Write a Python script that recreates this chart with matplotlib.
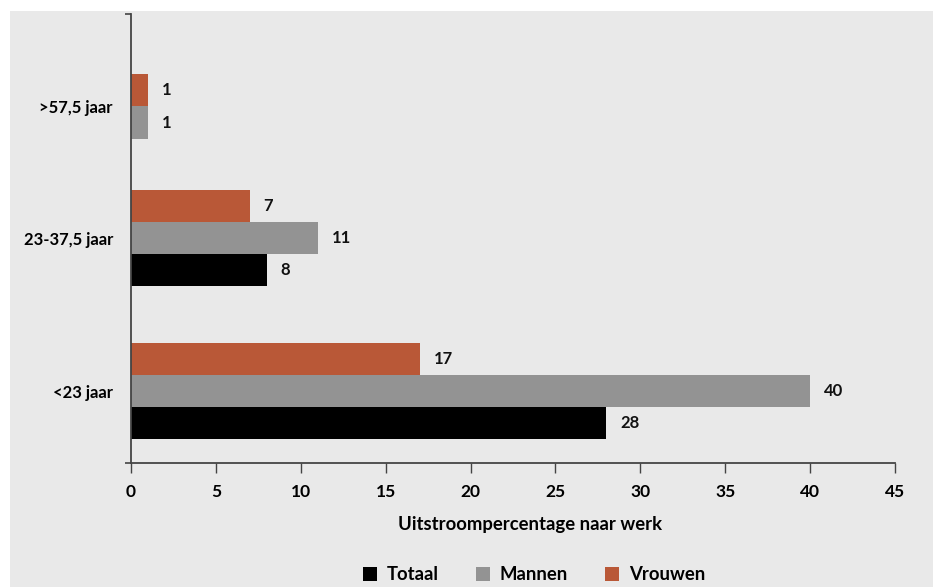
import matplotlib
matplotlib.use("Agg")
import matplotlib.pyplot as plt
from matplotlib.patches import Rectangle, Patch

plt.rcParams['font.family'] = ['Lato', 'DejaVu Sans']
plt.rcParams['font.weight'] = 'bold'

# Data
categories = ["<23 jaar", "23-37,5 jaar", ">57,5 jaar"]
series = ["Totaal", "Mannen", "Vrouwen"]
totaal = [28, 8, None]
mannen = [40, 11, 1]
vrouwen = [17, 7, 1]
colors = {"Totaal": "#000000", "Mannen": "#939393", "Vrouwen": "#b95837"}
xticks = [0, 5, 10, 15, 20, 25, 30, 35, 40, 45]

values = {"Totaal": totaal, "Mannen": mannen, "Vrouwen": vrouwen}
cat_pos = [0.0, 1.0, 1.86]
bar_h = 0.21
bg = "#e9e9e9"

fig = plt.figure(figsize=(9.33, 5.87), dpi=100, facecolor="white")
fig.patches.append(Rectangle((10 / 933, 0), 1, 1 - 11 / 587, transform=fig.transFigure,
                             facecolor=bg, edgecolor="none", zorder=-10))
ax = fig.add_axes([131 / 933, 124 / 587, 764 / 933, 449 / 587])
ax.set_zorder(1)
ax.set_facecolor(bg)

# Totaal at the bottom of each group, Vrouwen on top
for ci, pos in enumerate(cat_pos):
    present = [s for s in series if values[s][ci] is not None]
    n = len(present)
    for k, s in enumerate(present):
        v = values[s][ci]
        y = pos + (k - (n - 1) / 2) * bar_h
        ax.barh(y, v, height=bar_h, color=colors[s], zorder=2)
        ax.annotate(f"{v}", xy=(v, y), xytext=(10, 0), textcoords="offset points",
                    ha="left", va="center", fontsize=12, fontweight="bold", color="#111111")

ax.set_xlim(0, 45)
ax.set_ylim(-0.47, 2.464)
ax.set_xticks(xticks)
ax.set_xticklabels([str(t) for t in xticks], fontsize=12.5, fontweight="bold")
ax.set_yticks(cat_pos)
ax.set_yticklabels(categories, fontsize=12, fontweight="bold")
ax.set_yticks([-0.47, 2.464], minor=True)
ax.tick_params(axis="y", which="major", length=0, pad=13)
ax.tick_params(axis="y", which="minor", length=4, width=1.2, color="#444444")
ax.tick_params(axis="x", direction="out", length=7, width=1, color="#444444", pad=8)

for side in ["top", "right"]:
    ax.spines[side].set_visible(False)
for side in ["left", "bottom"]:
    ax.spines[side].set_color("#444444")
    ax.spines[side].set_linewidth(1.3)

ax.set_xlabel("Uitstroompercentage naar werk", fontsize=13.3, fontweight="bold")
ax.xaxis.set_label_coords(0.522, -0.117)

handles = [Patch(facecolor=colors[s], edgecolor="none", label=s) for s in series]
fig.legend(handles=handles, loc="center", bbox_to_anchor=(534 / 933, 12 / 587), ncol=3,
           frameon=False, handlelength=0.75, handleheight=0.75,
           columnspacing=2.0, handletextpad=0.55, prop={"weight": "bold", "size": 13.3})

fig.savefig("out.png", dpi=100, facecolor="white")
